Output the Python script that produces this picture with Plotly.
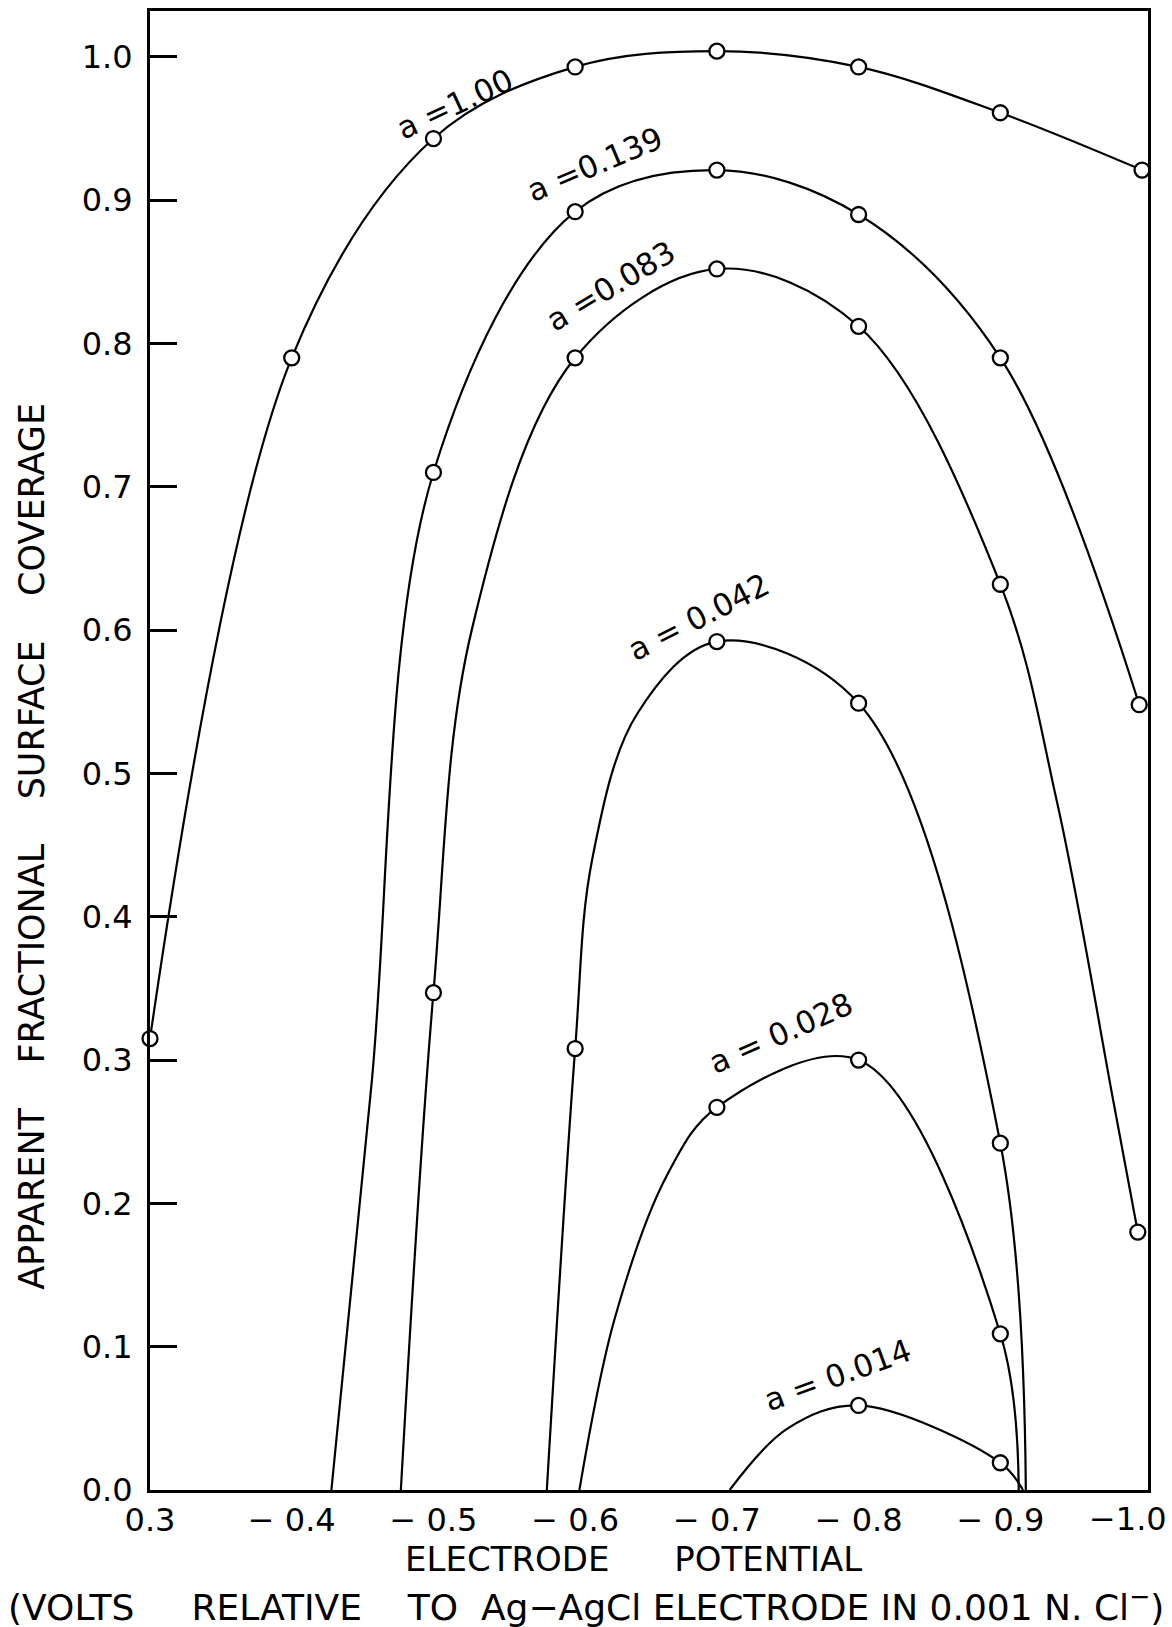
import plotly.graph_objects as go

NB = "\u00a0"
# ---------------- data ----------------
x_tick_vals = [-0.3, -0.4, -0.5, -0.6, -0.7, -0.8, -0.9, -1.0]
x_tick_text = ["0.3", "−" + NB + "0.4", "−" + NB + "0.5", "−" + NB + "0.6", "−" + NB + "0.7",
               "−" + NB + "0.8", "−" + NB + "0.9", "−1.0"]
y_tick_vals = [0.0, 0.1, 0.2, 0.3, 0.4, 0.5, 0.6, 0.7, 0.8, 0.9, 1.0]
y_tick_text = ["0.0", "0.1", "0.2", "0.3", "0.4", "0.5", "0.6", "0.7", "0.8", "0.9", "1.0"]

labels = ["a =1.00", "a =0.139", "a =0.083", "a = 0.042", "a = 0.028", "a = 0.014"]

# measured points (open circles)
pts_x_100 = [-0.3, -0.4, -0.5, -0.6, -0.7, -0.8, -0.9, -1.0]
pts_y_100 = [0.315, 0.79, 0.943, 0.993, 1.004, 0.993, 0.961, 0.921]
pts_x_139 = [-0.5, -0.6, -0.7, -0.8, -0.9, -0.998]
pts_y_139 = [0.71, 0.892, 0.921, 0.89, 0.79, 0.548]
pts_x_083 = [-0.5, -0.6, -0.7, -0.8, -0.9, -0.997]
pts_y_083 = [0.347, 0.79, 0.852, 0.812, 0.632, 0.18]
pts_x_042 = [-0.6, -0.7, -0.8, -0.9]
pts_y_042 = [0.308, 0.592, 0.549, 0.242]
pts_x_028 = [-0.7, -0.8, -0.9]
pts_y_028 = [0.267, 0.30, 0.109]
pts_x_014 = [-0.8, -0.9]
pts_y_014 = [0.059, 0.019]

# drawn curves
crv_x_100 = [-0.3, -0.4, -0.5, -0.6, -0.7, -0.8, -0.9, -1.0]
crv_y_100 = [0.315, 0.79, 0.943, 0.993, 1.004, 0.993, 0.961, 0.921]
crv_x_139 = [-0.428, -0.456, -0.5, -0.6, -0.7, -0.8, -0.9, -0.998]
crv_y_139 = [0.0, 0.28, 0.71, 0.892, 0.921, 0.89, 0.79, 0.548]
crv_x_083 = [-0.477, -0.5, -0.527, -0.6, -0.7, -0.8, -0.9, -0.94, -0.98, -0.997]
crv_y_083 = [0.0, 0.347, 0.6, 0.79, 0.852, 0.812, 0.632, 0.48, 0.27, 0.18]
crv_x_042 = [-0.58, -0.6, -0.612, -0.644, -0.7, -0.8, -0.9, -0.918]
crv_y_042 = [0.0, 0.308, 0.44, 0.542, 0.592, 0.549, 0.242, 0.0]
crv_x_028 = [-0.603, -0.628, -0.665, -0.7, -0.8, -0.9, -0.913]
crv_y_028 = [0.0, 0.12, 0.22, 0.267, 0.30, 0.109, 0.0]
crv_x_014 = [-0.709, -0.75, -0.8, -0.9, -0.916]
crv_y_014 = [0.0, 0.043, 0.059, 0.019, 0.0]

# label anchor positions (data coords) and angles
label_x = [-0.515, -0.614, -0.625, -0.687, -0.745, -0.785]
label_y = [0.967, 0.925, 0.84, 0.609, 0.319, 0.08]
label_angle = [-25, -23, -31, -27, -24, -20]

# ---------------- figure ----------------
FONT = "DejaVu Sans"
fig = go.Figure()

curves = [
    (crv_x_100, crv_y_100, pts_x_100, pts_y_100),
    (crv_x_139, crv_y_139, pts_x_139, pts_y_139),
    (crv_x_083, crv_y_083, pts_x_083, pts_y_083),
    (crv_x_042, crv_y_042, pts_x_042, pts_y_042),
    (crv_x_028, crv_y_028, pts_x_028, pts_y_028),
    (crv_x_014, crv_y_014, pts_x_014, pts_y_014),
]
for name, (cx, cy, px, py) in zip(labels, curves):
    fig.add_trace(go.Scatter(x=cx, y=cy, mode="lines", name=name,
                             line=dict(color="black", width=2.2, shape="spline", smoothing=1.0),
                             cliponaxis=True, showlegend=False, hoverinfo="skip"))
for name, (cx, cy, px, py) in zip(labels, curves):
    fig.add_trace(go.Scatter(x=px, y=py, mode="markers", name=name,
                             marker=dict(symbol="circle", size=15, color="white",
                                         line=dict(color="black", width=2.3)),
                             cliponaxis=False, showlegend=False))

for t, lx, ly, ang in zip(labels, label_x, label_y, label_angle):
    fig.add_annotation(x=lx, y=ly, xref="x", yref="y", text=t, showarrow=False,
                       textangle=ang, font=dict(family=FONT, size=31, color="black"),
                       xanchor="center", yanchor="middle")

# last x tick label drawn as an annotation, nudged left so it stays inside the page
fig.add_annotation(x=x_tick_vals[-1], y=0, xref="x", yref="paper", text=x_tick_text[-1],
                   showarrow=False, xanchor="center", yanchor="top", xshift=-14, yshift=-8,
                   font=dict(family=FONT, size=32, color="black"))
axis_tick_text = x_tick_text[:-1] + [""]

fig.add_annotation(xref="paper", yref="paper", x=-0.119, y=0.435,
                   text=f"APPARENT{NB*4}FRACTIONAL{NB*4}SURFACE{NB*4}COVERAGE",
                   textangle=-90, showarrow=False, xanchor="center", yanchor="middle",
                   font=dict(family=FONT, size=35, color="black"))
fig.add_annotation(xref="paper", yref="paper", x=0.484, y=-0.0465,
                   text=f"ELECTRODE{NB*6}POTENTIAL", showarrow=False,
                   xanchor="center", yanchor="middle",
                   font=dict(family=FONT, size=34, color="black"))
fig.add_annotation(xref="paper", yref="paper", x=0.437, y=-0.0775,
                   text=f"(VOLTS{NB*5}RELATIVE{NB*4}TO{NB*2}Ag−AgCl ELECTRODE IN 0.001 N. Cl<sup>−</sup>)",
                   showarrow=False, xanchor="center", yanchor="middle",
                   font=dict(family=FONT, size=36, color="black"))

fig.update_xaxes(range=[-0.3, -1.0042], tickmode="array", tickvals=x_tick_vals,
                 ticktext=axis_tick_text, ticks="", showgrid=False, zeroline=False,
                 showline=True, linecolor="black", linewidth=3, mirror=True,
                 automargin=False,
                 tickfont=dict(family=FONT, size=32, color="black"))
fig.update_yaxes(range=[0, 1.032], tickmode="array", tickvals=y_tick_vals,
                 ticktext=y_tick_text, ticks="inside", ticklen=27, tickwidth=2.5,
                 tickcolor="black", showgrid=False, zeroline=False,
                 showline=True, linecolor="black", linewidth=3, mirror=True,
                 ticklabelstandoff=8, automargin=False,
                 tickfont=dict(family=FONT, size=32, color="black"))

fig.update_layout(width=1172, height=1627, margin=dict(l=150, r=24, t=11, b=137),
                  paper_bgcolor="white", plot_bgcolor="white", showlegend=False)

fig.write_html("out.html")
